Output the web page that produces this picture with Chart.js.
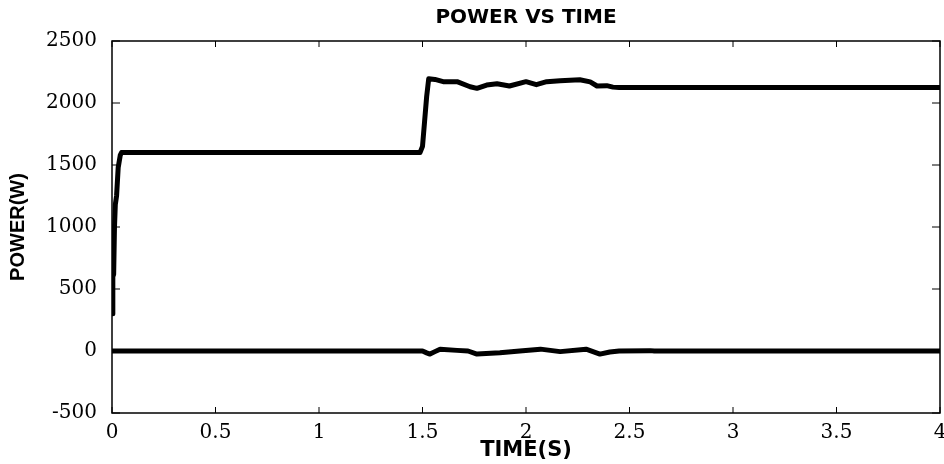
<!DOCTYPE html>
<html>
<head>
<meta charset="utf-8">
<script src="https://cdn.jsdelivr.net/npm/chart.js@4/dist/chart.umd.min.js"></script>
<style>
  html, body { margin: 0; padding: 0; background: #fff; }
  #wrap { width: 944px; height: 464px; }
</style>
</head>
<body>
<div id="wrap"><canvas id="grafica" width="944" height="464"></canvas></div>
<script>
// time (s) and power (W)
const tiempoSuperior = [0, 0.004, 0.008, 0.012, 0.016, 0.022, 0.03, 0.04, 0.046, 1.488, 1.5, 1.51, 1.52, 1.53, 1.56,
  1.6, 1.667, 1.73, 1.763, 1.81, 1.86, 1.92, 2.0, 2.05, 2.1, 2.165, 2.26, 2.31, 2.343, 2.39, 2.42, 2.45, 4];
const potenciaSuperior = [300, 600, 620, 1000, 1180, 1250, 1480, 1580, 1600, 1600, 1650, 1850, 2050, 2195, 2190,
  2172, 2172, 2131, 2118, 2145, 2155, 2137, 2172, 2148, 2172, 2180, 2188, 2170, 2137, 2140, 2128, 2125, 2125];

const tiempoInferior = [0, 1.5, 1.52, 1.536, 1.56, 1.585, 1.667, 1.72, 1.763, 1.874, 1.97, 2.07, 2.165, 2.29,
  2.357, 2.405, 2.45, 2.6, 2.62, 4];
const potenciaInferior = [0, 0, -15, -25, -5, 15, 5, 0, -25, -15, 0, 15, -5, 15, -25, -8, 0, 3, 0, 0];

const ticksTiempo = [0, 0.5, 1, 1.5, 2, 2.5, 3, 3.5, 4];
const ticksPotencia = [-500, 0, 500, 1000, 1500, 2000, 2500];

const aPuntos = (xs, ys) => xs.map((t, i) => ({ x: t, y: ys[i] }));

// MATLAB-like box with inward tick marks
const cajaYMarcas = {
  id: 'cajaYMarcas',
  beforeDatasetsDraw(chart) {
    const { ctx, chartArea: a, scales: { x, y } } = chart;
    ctx.save();
    ctx.strokeStyle = '#000';
    ctx.lineWidth = 1.5;
    ctx.strokeRect(a.left, a.top, a.width, a.height);
    ctx.lineWidth = 1;
    ctx.beginPath();
    ticksTiempo.forEach(v => {
      const px = x.getPixelForValue(v);
      ctx.moveTo(px, a.bottom); ctx.lineTo(px, a.bottom - 6);
      ctx.moveTo(px, a.top); ctx.lineTo(px, a.top + 6);
    });
    ticksPotencia.forEach(v => {
      const py = y.getPixelForValue(v);
      ctx.moveTo(a.left, py); ctx.lineTo(a.left + 8, py);
      ctx.moveTo(a.right, py); ctx.lineTo(a.right - 8, py);
    });
    ctx.stroke();
    ctx.restore();
  }
};

new Chart(document.getElementById('grafica'), {
  type: 'line',
  data: {
    datasets: [{
      data: aPuntos(tiempoSuperior, potenciaSuperior),
      borderColor: '#000',
      borderWidth: 5,
      borderJoinStyle: 'round',
      pointRadius: 0,
      tension: 0
    }, {
      data: aPuntos(tiempoInferior, potenciaInferior),
      borderColor: '#000',
      borderWidth: 5,
      borderJoinStyle: 'round',
      pointRadius: 0,
      tension: 0
    }]
  },
  options: {
    responsive: false,
    animation: false,
    layout: { padding: { left: 0, right: 4, top: 0, bottom: 0 } },
    plugins: {
      legend: { display: false },
      tooltip: { enabled: false },
      title: {
        display: true,
        text: 'POWER VS TIME',
        fullSize: false,
        color: '#000',
        font: { family: 'DejaVu Sans', size: 20, weight: 'bold' },
        padding: { top: 6, bottom: 11 }
      }
    },
    scales: {
      x: {
        type: 'linear',
        min: 0,
        max: 4,
        grid: { display: false },
        border: { display: false },
        afterBuildTicks: s => { s.ticks = ticksTiempo.map(v => ({ value: v })); },
        afterFit: s => { s.height = 51; s.paddingLeft = 0; s.paddingRight = 0; },
        ticks: {
          color: '#000',
          padding: 0,
          maxRotation: 0,
          font: { family: 'DejaVu Serif', size: 20 },
          callback: v => String(v)
        },
        title: {
          display: true,
          text: 'TIME(S)',
          color: '#000',
          font: { family: 'DejaVu Sans', size: 21, weight: 'bold' },
          padding: { top: 0, bottom: 1 }
        }
      },
      y: {
        min: -500,
        max: 2500,
        grid: { display: false },
        border: { display: false },
        afterBuildTicks: s => { s.ticks = ticksPotencia.map(v => ({ value: v })); },
        afterFit: s => { s.width = 112; s.paddingTop = 0; s.paddingBottom = 0; },
        ticks: {
          color: '#000',
          padding: 7,
          font: { family: 'DejaVu Serif', size: 20 },
          callback: v => String(v)
        },
        title: {
          display: true,
          text: 'POWER(W)',
          color: '#000',
          font: { family: 'Liberation Sans', size: 20, weight: 'bold' },
          padding: { top: 6, bottom: 0 }
        }
      }
    }
  },
  plugins: [cajaYMarcas]
});
</script>
</body>
</html>
